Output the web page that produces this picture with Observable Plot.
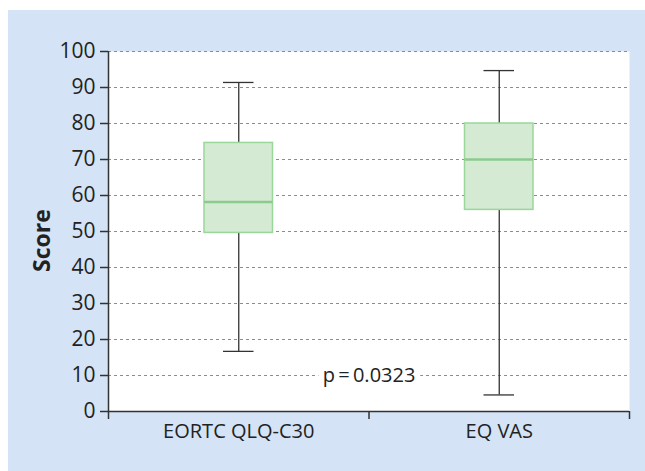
<!DOCTYPE html>
<html><head><meta charset="utf-8">
<script src="https://cdn.jsdelivr.net/npm/d3@7"></script>
<script src="https://cdn.jsdelivr.net/npm/@observablehq/plot@0.6"></script>
<style>
html,body{margin:0;padding:0;background:#fff;}
#chart{position:absolute;left:8px;top:10px;width:637px;height:461px;background:#d4e3f5;}
#chart svg{display:block;}
</style></head><body><div id="chart"></div>
<script>
const categories = ["EORTC QLQ-C30", "EQ VAS"];
const minValues = [16.7, 4.6];
const q1Values = [49.6, 56];
const medianValues = [58.2, 70];
const q3Values = [74.6, 80];
const maxValues = [91.4, 94.7];
const yTicks = [0, 10, 20, 30, 40, 50, 60, 70, 80, 90, 100];
const yLabel = "Score";
const pText = "p\u2009=\u20090.0323";
const pY = 10;

const data = categories.map((name, i) => ({
  name, pos: i, min: minValues[i], q1: q1Values[i], median: medianValues[i], q3: q3Values[i], max: maxValues[i]
}));
const center = d => d.pos + 0.5;
const left = d => d.pos;
const right = d => d.pos + 1;

const boxInset = 96, capInset = 115;
const dark = "#333";

const plot = Plot.plot({
  width: 637, height: 461,
  marginLeft: 100, marginRight: 16, marginTop: 41, marginBottom: 60,
  style: {background: "transparent", fontFamily: "'Open Sans', sans-serif", fontSize: "20px", color: "#222"},
  x: {type: "linear", domain: [0, categories.length]},
  y: {domain: [0, 100]},
  marks: [
    Plot.frame({fill: "white", stroke: "none"}),
    Plot.gridY(yTicks.filter(d => d > 0), {stroke: "#8c8c8c", strokeOpacity: 1, strokeDasharray: "3,3"}),
    Plot.text([{t: pText, x: categories.length / 2, y: pY}], {x: "x", y: "y", text: "t", fill: "#222", stroke: "white", strokeWidth: 12, fontSize: 20}),
    Plot.ruleX(data, {x: center, y1: "min", y2: "q1", stroke: dark, strokeWidth: 1.3}),
    Plot.ruleX(data, {x: center, y1: "q3", y2: "max", stroke: dark, strokeWidth: 1.3}),
    Plot.ruleY(data, {y: "min", x1: left, x2: right, insetLeft: capInset, insetRight: capInset, stroke: dark, strokeWidth: 1.3}),
    Plot.ruleY(data, {y: "max", x1: left, x2: right, insetLeft: capInset, insetRight: capInset, stroke: dark, strokeWidth: 1.3}),
    Plot.rect(data, {x1: left, x2: right, y1: "q1", y2: "q3", insetLeft: boxInset, insetRight: boxInset, fill: "#d4ead3", stroke: "#9bd69b", strokeWidth: 1.5}),
    Plot.ruleY(data, {y: "median", x1: left, x2: right, insetLeft: boxInset, insetRight: boxInset, stroke: "#8dca8d", strokeWidth: 2.5}),
    Plot.ruleY([0], {stroke: dark, strokeWidth: 1.5}),
    Plot.ruleX([0], {stroke: dark, strokeWidth: 1.5}),
    Plot.axisY({ticks: yTicks, tickSize: 8, tickPadding: 5, label: null, stroke: dark, strokeWidth: 1.5, fill: "#222", fontSize: 21}),
    Plot.axisX({ticks: d3.range(0, categories.length + 1), tickSize: 8, tickFormat: () => "", label: null, stroke: dark, strokeWidth: 1.5}),
    Plot.axisX({ticks: categories.map((c, i) => i + 0.5), tickSize: 0, tickPadding: 12, tickFormat: d => categories[Math.floor(d)], label: null, fill: "#222", fontSize: 20}),
    Plot.text([yLabel], {frameAnchor: "left", textAnchor: "middle", rotate: -90, dx: -66, dy: 9, fontWeight: "bold", fontSize: 23, fill: "#222"})
  ]
});
document.getElementById("chart").appendChild(plot);
</script></body></html>
